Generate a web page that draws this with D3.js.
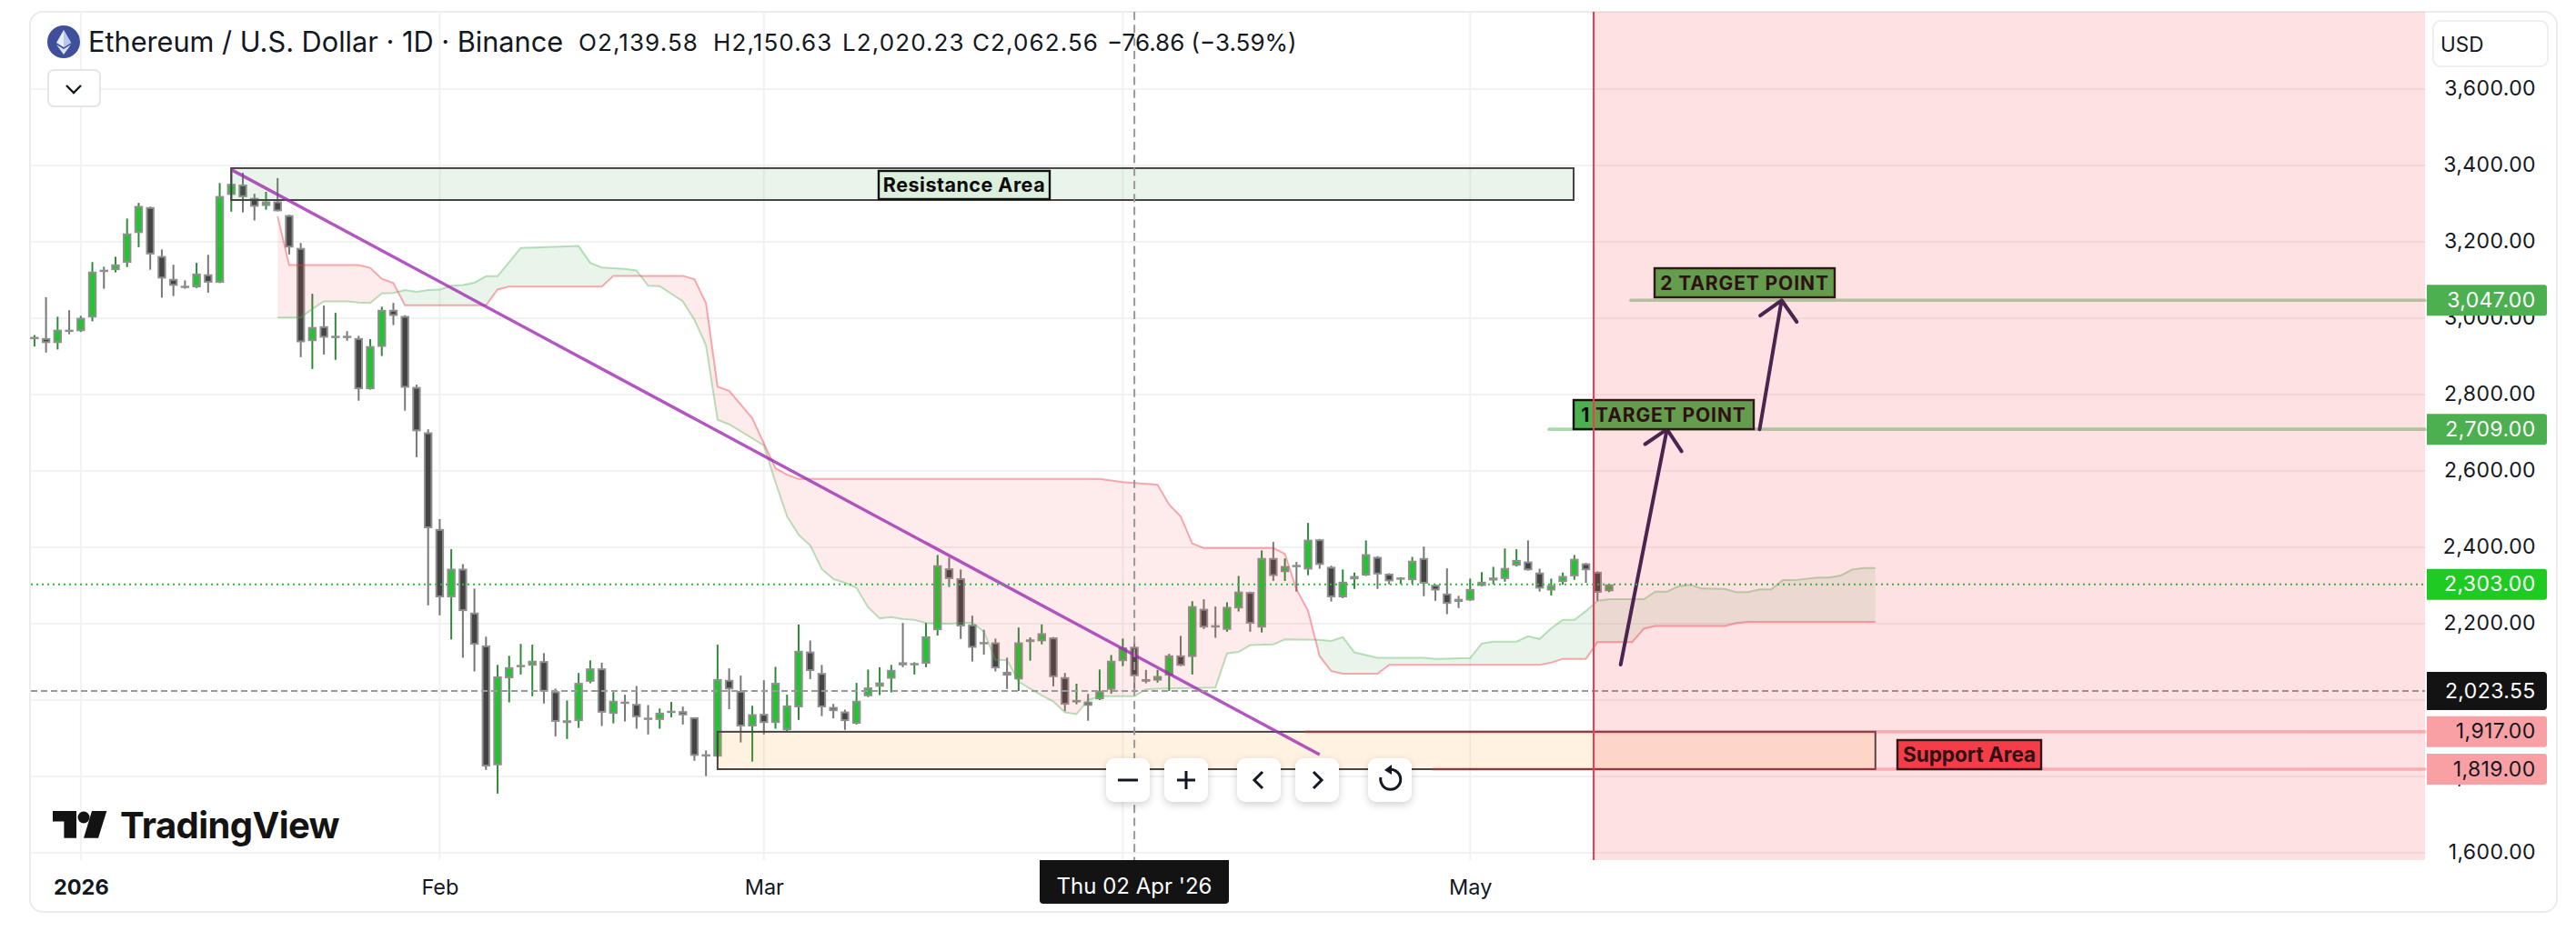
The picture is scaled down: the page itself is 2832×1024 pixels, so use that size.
<!DOCTYPE html>
<html>
<head>
<meta charset="utf-8">
<script src="https://cdn.jsdelivr.net/npm/d3@7"></script>
<style>
  html, body { margin: 0; padding: 0; background: #fff; }
  svg { display: block; }
  text { font-family: Inter, "Noto Sans", sans-serif; }
  .btn { filter: drop-shadow(0 3px 4px rgba(0,0,0,.18)); }
</style>
</head>
<body>
<svg id="chart" width="2832" height="1024"></svg>
<script>
// daily candles, 28 Dec 2025 to 13 May 2026
var firstDay = -4; // days from 1 Jan 2026
var openValues = [2949,2948,2935,2970,2966,3002,3127,3126,3145,3223,3291,3163,3103,3085,3081,3115,3093,3323,3350,3315,3294,3306,3270,3184,2940,2979,2951,2954,2948,2814,2925,3022,3006,2820,2701,
  2448,2269,2344,2229,2143,1829,2057,2090,2090,2102,2023,1940,1945,2048,2083,1964,1996,1990,1954,1948,1968,1971,1955,1858,1852,2053,2024,1931,
  1964,1940,1921,1981,2127,2071,1982,1970,1938,2010,2035,2056,2099,2092,2095,2183,2345,2319,2198,2152,2151,2074,2054,2152,2154,2164,2060,1996,1996,2002,2027,
  2102,2139.58,2055,2051,2064,2117,2113,2239,2196,2184,2240,2283,2190,2372,2335,2354,2342,2421,2349,2269,2316,2326,2375,2331,2319,2314,2372,2302,2279,2265,
  2261,2299,2313,2317,2352,2363,2334,2287,2309,2324,2358,2336,2285];
var highValues = [2956,3055,3004,3021,3006,3147,3135,3161,3261,3302,3292,3180,3140,3099,3145,3166,3354,3394,3381,3326,3331,3367,3271,3197,3064,3033,3014,2966,2954,2945,3030,3040,3008,2826,2709,
  2474,2395,2356,2292,2166,2092,2116,2147,2145,2123,2030,1999,2071,2104,2098,2021,2014,2037,1987,1978,1995,1983,1955,1868,2145,2083,2064,1985,
  2052,2087,2014,2198,2156,2092,1990,1975,2045,2080,2086,2092,2202,2099,2202,2380,2373,2342,2221,2184,2161,2111,2190,2164,2198,2165,2071,2043,2016,2080,2118,
  2161,2150.63,2079,2079,2121,2168,2259,2264,2245,2256,2325,2284,2392,2414,2371,2362,2464,2422,2352,2342,2334,2418,2377,2332,2322,2375,2402,2302,2345,2273,
  2318,2335,2349,2397,2395,2418,2344,2318,2334,2380,2359,2337,2303];
var lowValues = [2926,2910,2918,2958,2964,2992,3077,3120,3134,3186,3127,3054,3058,3077,3079,3067,3092,3279,3277,3256,3284,3280,3167,2898,2867,2905,2891,2941,2784,2813,2901,2982,2758,2636,2248,
  2222,2159,2111,2075,1817,1755,1994,2067,2010,1991,1905,1898,1927,2044,1932,1939,1944,1925,1910,1925,1955,1936,1841,1801,1851,1976,1889,1839,
  1910,1925,1919,1948,2055,1958,1952,1922,1936,2008,2013,2020,2086,2067,2086,2169,2296,2160,2101,2119,2075,2029,2024,2103,2146,2036,1971,1989,1946,2000,2017,
  2089,2020.23,2044,2046,2024,2089,2067,2186,2163,2179,2232,2179,2177,2312,2312,2284,2327,2344,2258,2267,2291,2325,2291,2303,2304,2304,2272,2260,2225,2241,
  2260,2298,2303,2310,2350,2339,2284,2274,2302,2315,2307,2260,2283];
var closeValues = [2951,2935,2970,2969,3001,3122,3125,3141,3222,3294,3167,3104,3085,3082,3117,3093,3320,3352,3317,3292,3306,3280,3185,2937,2977,2949,2954,2952,2814,2927,3022,3006,2818,2704,2450,
  2269,2344,2233,2145,1826,2062,2086,2092,2103,2022,1943,1947,2045,2083,1967,1998,1992,1955,1950,1967,1972,1960,1854,1854,2055,2028,1931,1963,
  1940,2045,1986,2129,2076,1981,1971,1945,1998,2033,2046,2079,2091,2097,2167,2353,2317,2193,2137,2150,2083,2064,2151,2159,2175,2060,1988,2000,1985,2024,2103,
  2138,2062.56,2048,2063,2117,2090,2246,2190,2194,2244,2284,2200,2372,2325,2351,2352,2420,2354,2269,2310,2325,2382,2329,2311,2321,2365,2305,2287,2252,2257,
  2291,2310,2321,2346,2367,2340,2292,2301,2325,2370,2340,2281,2303];

// ichimoku spans, read at their corners
var spanADays = [17,19,20,21,23,24,25,26,27,28,29,30,31,32,33,34,35,36,38,43,44,45,47,48,49,50,52,53,54,55,56,59,60,61,62,63,64,65,66,67,68,69,70,71,72,73,75,77,78,79,80,81,83,84,85,86,87,88,91,92,93,98,99,100,101,103,104,107,108,109,110,112,116,117,120,121,122,124,125,126,127,128,129,130,131,132,135,136,137,138,139,140,142,143,144,145,146,147,148,150,151,152,153,154,155];
var spanAValues = [3002,3002,3024,3044,3044,3041,3040,3065,3066,3074,3069,3074,3075,3085,3087,3093,3110,3110,3184,3189,3145,3133,3129,3125,3085,3084,3044,2996,2929,2734,2722,2667,2571,2481,2433,2405,2343,2317,2307,2294,2243,2214,2217,2212,2210,2202,2200,2203,2179,2105,2105,2048,2012,1996,1968,1963,2000,2010,2010,2028,2030,2033,2122,2126,2144,2146,2159,2158,2155,2165,2125,2111,2111,2108,2110,2148,2153,2153,2167,2160,2188,2210,2210,2233,2260,2264,2264,2284,2284,2298,2302,2292,2291,2283,2283,2290,2290,2314,2314,2321,2321,2326,2342,2346,2346];
var spanBDays = [17,18,24,25,26,27,28,35,36,37,45,46,52,53,54,55,56,57,58,60,61,62,88,90,93,94,95,96,97,103,104,105,106,107,108,109,112,113,126,127,128,130,131,134,135,136,142,143,144,155];
var spanBValues = [3267,3139,3139,3132,3103,3092,3034,3034,3075,3083,3083,3111,3111,3102,3040,2821,2810,2774,2738,2607,2590,2579,2579,2571,2564,2512,2481,2410,2398,2398,2383,2290,2234,2115,2076,2069,2069,2092,2092,2098,2108,2108,2152,2152,2187,2194,2194,2202,2205,2205];

var gridPrices = [3600,3400,3200,3000,2800,2600,2400,2200,2000,1800,1600];
var gridDays = [0,31,59,90,120];
// 2,000 and Apr sit fully behind the crosshair tags in the picture
var priceTicks = [3600,3400,3200,3000,2800,2600,2400,2200,1800,1600];
var monthDays = [0,31,59,120];
var monthLabels = ['2026','Feb','Mar','May'];

var lastPrice = 2303;
var crossPrice = 2023.55;
var crossDay = 91;
var crossLabel = "Thu 02 Apr '26";
var target1 = 2709, target2 = 3047;
var supportTop = 1917, supportBottom = 1819;
var resistanceTop = 3393, resistanceBottom = 3309.5;

function dayDate(d) { return new Date(Date.UTC(2026, 0, 1) + d * 864e5); }

var svg = d3.select('#chart');
var plotLeft = 34, plotRight = 2666, plotTop = 13, plotBottom = 946;

var x = d3.scaleUtc().domain([dayDate(0), dayDate(132)]).range([88.8, 1769]);
var y = d3.scaleLinear().domain([2000, 3000]).range([770, 350]);
function xd(d) { return x(dayDate(d)); }

// outer frame
svg.append('rect').attr('x', 33).attr('y', 13).attr('width', 2778).attr('height', 990).attr('rx', 14)
  .attr('fill', '#fff').attr('stroke', '#ececec').attr('stroke-width', 2);

// grid
svg.append('g').selectAll('line').data(gridPrices).enter().append('line')
  .attr('x1', plotLeft).attr('x2', plotRight)
  .attr('y1', function (d) { return y(d); }).attr('y2', function (d) { return y(d); })
  .attr('stroke', '#f2f2f2').attr('stroke-width', 2);
svg.append('g').selectAll('line').data(gridDays).enter().append('line')
  .attr('x1', function (d) { return xd(d); }).attr('x2', function (d) { return xd(d); })
  .attr('y1', plotTop).attr('y2', plotBottom)
  .attr('stroke', '#f2f2f2').attr('stroke-width', 2);

// candles
var candles = d3.range(openValues.length);
var gc = svg.append('g');
gc.selectAll('line').data(candles).enter().append('line')
  .attr('x1', function (i) { return xd(firstDay + i); }).attr('x2', function (i) { return xd(firstDay + i); })
  .attr('y1', function (i) { return y(highValues[i]); }).attr('y2', function (i) { return y(lowValues[i]); })
  .attr('stroke', function (i) { return closeValues[i] >= openValues[i] ? '#2e8b3a' : '#777'; })
  .attr('stroke-width', 2);
gc.selectAll('rect').data(candles).enter().append('rect')
  .attr('x', function (i) { return xd(firstDay + i) - 3.7; })
  .attr('width', 7.4)
  .attr('y', function (i) { return y(Math.max(openValues[i], closeValues[i])) + 1; })
  .attr('height', function (i) { return Math.max(0.5, Math.abs(y(openValues[i]) - y(closeValues[i])) - 2); })
  .attr('fill', function (i) { return closeValues[i] >= openValues[i] ? '#22c42f' : '#444'; })
  .attr('stroke', '#8f8f8f').attr('stroke-width', 2);

// cloud: each colour is clipped to the part where its own span is on top
var spanA = spanADays.map(function (d, i) { return { d: d, v: spanAValues[i] }; });
var spanB = spanBDays.map(function (d, i) { return { d: d, v: spanBValues[i] }; });
function below(points) {
  return d3.area().x(function (p) { return xd(p.d); }).y0(plotBottom).y1(function (p) { return y(p.v); })(points);
}
function above(points) {
  return d3.area().x(function (p) { return xd(p.d); }).y0(plotTop).y1(function (p) { return y(p.v); })(points);
}
var defs = svg.append('defs');
defs.append('clipPath').attr('id', 'aboveB').append('path').attr('d', above(spanB));
defs.append('clipPath').attr('id', 'aboveA').append('path').attr('d', above(spanA));
svg.append('path').attr('d', below(spanA)).attr('clip-path', 'url(#aboveB)').attr('fill', 'rgba(76,175,80,.12)');
svg.append('path').attr('d', below(spanB)).attr('clip-path', 'url(#aboveA)').attr('fill', 'rgba(242,54,69,.1)');
var cloudLine = d3.line().x(function (p) { return xd(p.d); }).y(function (p) { return y(p.v); });
svg.append('path').attr('d', cloudLine(spanA)).attr('fill', 'none').attr('stroke', '#4caf50').attr('stroke-opacity', .38).attr('stroke-width', 2);
svg.append('path').attr('d', cloudLine(spanB)).attr('fill', 'none').attr('stroke', '#f23645').attr('stroke-opacity', .42).attr('stroke-width', 2);

// areas
svg.append('rect').attr('x', xd(13)).attr('width', 1730 - xd(13))
  .attr('y', y(resistanceTop)).attr('height', y(resistanceBottom) - y(resistanceTop))
  .attr('fill', 'rgba(76,175,80,.12)').attr('stroke', '#444').attr('stroke-width', 2);
svg.append('rect').attr('x', xd(55)).attr('width', xd(155) - xd(55))
  .attr('y', y(supportTop)).attr('height', y(supportBottom) - y(supportTop))
  .attr('fill', 'rgba(255,152,0,.12)').attr('stroke', '#444').attr('stroke-width', 2);

// target and support rays
function ray(x1, price, color) {
  svg.append('line').attr('x1', x1).attr('x2', plotRight).attr('y1', y(price)).attr('y2', y(price))
    .attr('stroke', color).attr('stroke-width', 3.7).attr('stroke-linecap', 'round');
}
ray(1703, target1, 'rgba(76,175,80,.48)');
ray(1793, target2, 'rgba(76,175,80,.48)');
ray(1436, supportTop, 'rgba(242,54,69,.3)');
ray(1576, supportBottom, 'rgba(242,54,69,.3)');

// trend line
svg.append('line').attr('x1', xd(13)).attr('y1', y(3389)).attr('x2', xd(107)).attr('y2', y(1857))
  .attr('stroke', '#9c27b0').attr('stroke-opacity', .78).attr('stroke-width', 3.4);

// arrows
function arrow(d1, p1, d2, p2) {
  var x1 = xd(d1), y1 = y(p1), x2 = xd(d2), y2 = y(p2);
  var a = Math.atan2(y1 - y2, x1 - x2), head = 29, spread = 0.78;
  var path = d3.path();
  path.moveTo(x1, y1); path.lineTo(x2, y2);
  path.moveTo(x2 + head * Math.cos(a + spread), y2 + head * Math.sin(a + spread));
  path.lineTo(x2, y2);
  path.lineTo(x2 + head * Math.cos(a - spread), y2 + head * Math.sin(a - spread));
  svg.append('path').attr('d', path.toString()).attr('fill', 'none')
    .attr('stroke', '#2e2152').attr('stroke-width', 4).attr('stroke-linecap', 'round').attr('stroke-linejoin', 'round');
}
arrow(133, 2093, 137, target1);
arrow(145, target1, 146.9, target2);

// note boxes
function note(text, x0, x1, y0, y1, fill, size, spacing, weight) {
  svg.append('rect').attr('x', x0).attr('y', y0).attr('width', x1 - x0).attr('height', y1 - y0)
    .attr('fill', fill).attr('stroke', '#111').attr('stroke-width', 2.4);
  svg.append('text').attr('x', (x0 + x1) / 2).attr('y', (y0 + y1) / 2 + size * 0.36)
    .attr('text-anchor', 'middle').attr('font-size', size).attr('font-weight', weight)
    .attr('letter-spacing', spacing).attr('fill', '#0b0b0b').text(text);
}
note('Resistance Area', 966, 1154, 188, 219, '#dcefdc', 21.5, 0.5, 700);
note('1 TARGET POINT', 1730, 1928, 440, 472, '#4caf50', 21, 0.9, 700);
note('2 TARGET POINT', 1819, 2017, 295, 327, '#4caf50', 21, 0.9, 700);
note('Support Area', 2086, 2244, 814, 846, '#f63e4b', 22.5, 0, 700);

// last price and crosshair
svg.append('line').attr('x1', plotLeft).attr('x2', plotRight).attr('y1', y(lastPrice)).attr('y2', y(lastPrice))
  .attr('stroke', '#22c42f').attr('stroke-width', 2).attr('stroke-dasharray', '2 4');
svg.append('line').attr('x1', plotLeft).attr('x2', plotRight).attr('y1', y(crossPrice)).attr('y2', y(crossPrice))
  .attr('stroke', '#999').attr('stroke-width', 2).attr('stroke-dasharray', '7 4');
svg.append('line').attr('x1', xd(crossDay)).attr('x2', xd(crossDay)).attr('y1', plotTop).attr('y2', plotBottom)
  .attr('stroke', '#999').attr('stroke-width', 2).attr('stroke-dasharray', '9 5.3');

// future zone goes over everything in the plot
svg.append('rect').attr('x', 1752).attr('y', plotTop).attr('width', plotRight - 1752).attr('height', plotBottom - plotTop)
  .attr('fill', 'rgba(242,54,69,.15)');
svg.append('line').attr('x1', 1752).attr('x2', 1752).attr('y1', plotTop).attr('y2', plotBottom)
  .attr('stroke', '#f63b4e').attr('stroke-width', 2);

// watermark
var logo = svg.append('g').attr('fill', '#131313');
logo.append('polygon').attr('points', '58,892 84,892 84,921.7 70.4,921.7 70.4,903.5 58,903.5');
logo.append('circle').attr('cx', 92).attr('cy', 899).attr('r', 6.5);
logo.append('polygon').attr('points', '101,892 117.3,892 108,921.7 92,921.7');
logo.append('text').attr('x', 132).attr('y', 921.7).attr('font-size', 40).attr('font-weight', 700)
  .attr('letter-spacing', -0.6).text('TradingView');

// price axis
var yAxis = svg.append('g').attr('transform', 'translate(' + plotRight + ',0)')
  .call(d3.axisRight(y).tickValues(priceTicks).tickFormat(d3.format(',.2f')).tickSize(0).tickPadding(122));
yAxis.select('.domain').remove();
yAxis.attr('text-anchor', 'end').attr('font-family', 'Inter').attr('font-size', 23);
yAxis.selectAll('text').attr('fill', '#131722').attr('letter-spacing', 0.4).attr('dy', '0.28em');

// time axis
var xAxis = svg.append('g').attr('transform', 'translate(0,' + plotBottom + ')')
  .call(d3.axisBottom(x).tickValues(monthDays.map(dayDate))
    .tickFormat(function (d, i) { return monthLabels[i]; }).tickSize(0).tickPadding(21));
xAxis.select('.domain').remove();
xAxis.attr('font-family', 'Inter').attr('font-size', 23.5);
xAxis.selectAll('text').attr('fill', '#131722')
  .attr('font-weight', function (d, i) { return i === 0 ? 700 : 400; });

// price labels
function priceTag(price, fill, color, text) {
  var cy = y(price);
  svg.append('path')
    .attr('d', 'M2668,' + (cy - 17) + 'H2797a3,3 0 0 1 3,3V' + (cy + 14) + 'a3,3 0 0 1 -3,3H2668Z')
    .attr('fill', fill);
  svg.append('text').attr('x', 2787.7).attr('y', cy + 7.5).attr('text-anchor', 'end').attr('font-size', 23)
    .attr('letter-spacing', 0.4).attr('fill', color).text(text);
}
var fmt = d3.format(',.2f');
priceTag(target2, '#4caf50', '#fff', fmt(target2));
priceTag(target1, '#4caf50', '#fff', fmt(target1));
priceTag(lastPrice, '#1ecb23', '#fff', fmt(lastPrice));
priceTag(supportTop, '#f9a0a5', '#131722', fmt(supportTop));
priceTag(supportBottom, '#f9a0a5', '#131722', fmt(supportBottom));
svg.append('path').attr('d', 'M2668,739H2796a4,4 0 0 1 4,4V777a4,4 0 0 1 -4,4H2668Z').attr('fill', '#131313');
svg.append('text').attr('x', 2787.7).attr('y', y(crossPrice) + 7.5).attr('text-anchor', 'end').attr('font-size', 23)
  .attr('letter-spacing', 0.4).attr('fill', '#fff').text(fmt(crossPrice));

// date label
svg.append('path').attr('d', 'M1143,946H1351V990a4,4 0 0 1 -4,4H1147a4,4 0 0 1 -4,-4Z').attr('fill', '#131313');
svg.append('text').attr('x', 1247).attr('y', 983).attr('text-anchor', 'middle').attr('font-size', 24)
  .attr('fill', '#fff').text(crossLabel);

// USD button
svg.append('rect').attr('x', 2675).attr('y', 23).attr('width', 126).attr('height', 50).attr('rx', 8)
  .attr('fill', '#fff').attr('stroke', '#eee').attr('stroke-width', 2);
svg.append('text').attr('x', 2683).attr('y', 57).attr('font-size', 22.5).attr('fill', '#131722').text('USD');

// legend
var eth = svg.append('g');
eth.append('circle').attr('cx', 70).attr('cy', 46).attr('r', 18).attr('fill', '#3f4f9a');
eth.append('polygon').attr('points', '70,33 78,47 70,52 62,47').attr('fill', '#e6ecfa');
eth.append('polygon').attr('points', '70,33 78,47 70,52').attr('fill', '#b9c6ee');
eth.append('polygon').attr('points', '62,49 70,54 78,49 70,60').attr('fill', '#dbe3f8');
svg.append('text').attr('x', 97).attr('y', 57).attr('font-size', 30.7).attr('fill', '#131722')
  .text('Ethereum / U.S. Dollar · 1D · Binance');
var legendItems = [['O2,139.58', 636, 1.1], ['H2,150.63', 784, 1.1], ['L2,020.23', 926, 1.1], ['C2,062.56', 1069, 1.1], ['\u221276.86 (\u22123.59%)', 1217, 0]];
svg.append('g').selectAll('text').data(legendItems).enter().append('text')
  .attr('x', function (d) { return d[1]; }).attr('y', 56).attr('font-size', 26).attr('fill', '#131722')
  .attr('letter-spacing', function (d) { return d[2]; })
  .text(function (d) { return d[0]; });

svg.append('rect').attr('x', 53).attr('y', 77).attr('width', 57).attr('height', 40).attr('rx', 6)
  .attr('fill', '#fff').attr('stroke', '#e6e6e6').attr('stroke-width', 2);
svg.append('path').attr('d', 'M73,94L81,102L89,94').attr('fill', 'none').attr('stroke', '#131722').attr('stroke-width', 2.4);

// zoom buttons
var buttonX = [1216, 1280, 1360, 1424, 1504];
var buttonIcons = ['M-11,0H11', 'M-10,0H10M0,-10V10', 'M4,-9L-5,0L4,9', 'M-4,-9L5,0L-4,9',
  'M-3,-11A11,11 0 1 1 -10,-3'];
var gb = svg.append('g').selectAll('g').data(buttonX).enter().append('g').attr('class', 'btn')
  .attr('transform', function (d) { return 'translate(' + d + ',834)'; });
gb.append('rect').attr('width', 48).attr('height', 48).attr('rx', 9).attr('fill', '#fff');
gb.append('path').attr('transform', 'translate(24,24)')
  .attr('d', function (d, i) { return buttonIcons[i]; })
  .attr('fill', 'none').attr('stroke', '#131722').attr('stroke-width', 3);
gb.filter(function (d, i) { return i === 4; }).append('polygon')
  .attr('transform', 'translate(24,24)').attr('points', '-6,-11 2,-17 2,-6').attr('fill', '#131722');
</script>
</body>
</html>
